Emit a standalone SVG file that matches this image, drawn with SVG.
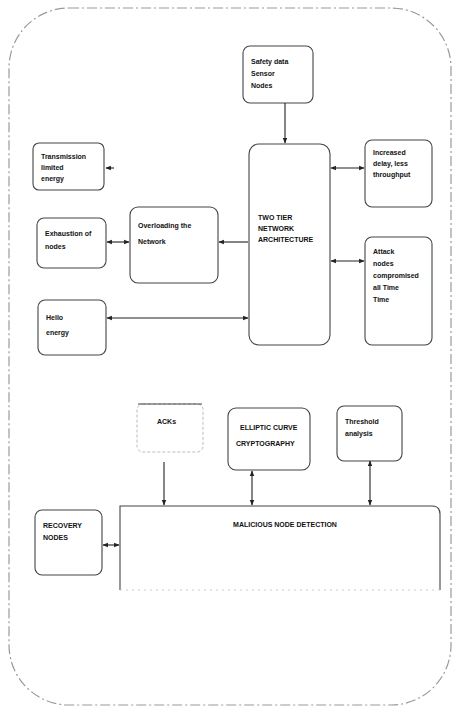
<svg xmlns="http://www.w3.org/2000/svg" width="460" height="713" viewBox="0 0 460 713">
<style>
.frame{fill:none;stroke:#9a9a9a;stroke-width:1.2;stroke-dasharray:10 3 2 3}
.box{fill:#fff;stroke:#444;stroke-width:1.1}
.t{font-family:"Liberation Sans",Arial,sans-serif;font-size:7px;font-weight:bold;fill:#111}
.c{stroke:#222;stroke-width:1.1;fill:none}
</style>
<defs>
<marker id="ah" viewBox="0 0 10 10" refX="9" refY="5" markerWidth="5" markerHeight="5" orient="auto-start-reverse">
<path d="M0,1 L10,5 L0,9 z" fill="#222"/>
</marker>
</defs>
<rect x="9" y="8" width="442" height="697" rx="60" ry="60" class="frame"/>

<g id="sensor"><rect class="box" x="243" y="46" width="70" height="57" rx="7"/>
<text class="t" x="251" y="64">Safety data</text><text class="t" x="251" y="76">Sensor</text><text class="t" x="251" y="88">Nodes</text></g>

<g id="transmission"><rect class="box" x="33" y="143" width="71" height="47" rx="6"/>
<text class="t" x="41" y="159">Transmission</text><text class="t" x="41" y="170">limited</text><text class="t" x="41" y="181">energy</text></g>

<g id="exhaustion"><rect class="box" x="37" y="218" width="69" height="50" rx="7"/>
<text class="t" x="45" y="236">Exhaustion of</text><text class="t" x="45" y="249">nodes</text></g>

<g id="overloading"><rect class="box" x="130" y="207" width="88" height="76" rx="8"/>
<text class="t" x="138" y="228">Overloading the</text><text class="t" x="138" y="244">Network</text></g>

<g id="twotier"><rect class="box" x="249" y="144" width="81" height="201" rx="10"/>
<text class="t" x="258" y="220">TWO TIER</text><text class="t" x="258" y="231">NETWORK</text><text class="t" x="258" y="242">ARCHITECTURE</text></g>

<g id="delay"><rect class="box" x="365" y="140" width="67" height="67" rx="7"/>
<text class="t" x="373" y="155">Increased</text><text class="t" x="373" y="166">delay, less</text><text class="t" x="373" y="177">throughput</text></g>

<g id="attack"><rect class="box" x="365" y="237" width="67" height="108" rx="7"/>
<text class="t" x="373" y="254">Attack</text><text class="t" x="373" y="266">nodes</text><text class="t" x="373" y="278">compromised</text><text class="t" x="373" y="290">all Time</text><text class="t" x="373" y="302">Time</text></g>

<g id="hello"><rect class="box" x="38" y="300" width="68" height="55" rx="7"/>
<text class="t" x="46" y="320">Hello</text><text class="t" x="46" y="335">energy</text></g>

<g id="acks"><rect x="137" y="404" width="66" height="48" rx="6" fill="#fff" stroke="#bbb" stroke-width="1" stroke-dasharray="3 2"/><line x1="138" y1="404" x2="202" y2="404" stroke="#444" stroke-width="1.1"/>
<text class="t" x="157" y="424">ACKs</text></g>

<g id="ecc"><rect class="box" x="228" y="408" width="82" height="62" rx="8"/>
<text class="t" x="240" y="430">ELLIPTIC CURVE</text><text class="t" x="236" y="446">CRYPTOGRAPHY</text></g>

<g id="threshold"><rect class="box" x="337" y="406" width="65" height="55" rx="7"/>
<text class="t" x="345" y="424">Threshold</text><text class="t" x="345" y="436">analysis</text></g>

<g id="recovery"><rect class="box" x="35" y="510" width="67" height="65" rx="7"/>
<text class="t" x="43" y="528">RECOVERY</text><text class="t" x="43" y="540">NODES</text></g>

<g id="malicious"><path class="box" d="M120,590 L120,506 L432,506 Q440,506 440,514 L440,590" fill="none"/>
<path d="M120,590 L440,590" stroke="#ccc" stroke-width="1" stroke-dasharray="2 4"/>
<text class="t" x="285" y="527" text-anchor="middle" font-size="8">MALICIOUS NODE DETECTION</text></g>

<g id="connectors">
<line class="c" x1="285" y1="103" x2="285" y2="143" marker-end="url(#ah)"/>
<line class="c" x1="114" y1="168" x2="106" y2="168" marker-end="url(#ah)"/>
<line class="c" x1="107" y1="242" x2="129" y2="242" marker-start="url(#ah)" marker-end="url(#ah)"/>
<line class="c" x1="248" y1="242" x2="219" y2="242" marker-end="url(#ah)"/>
<line class="c" x1="107" y1="318" x2="248" y2="318" marker-start="url(#ah)" marker-end="url(#ah)"/>
<line class="c" x1="331" y1="168" x2="364" y2="168" marker-start="url(#ah)" marker-end="url(#ah)"/>
<line class="c" x1="331" y1="261" x2="364" y2="261" marker-start="url(#ah)" marker-end="url(#ah)"/>
<line class="c" x1="164" y1="462" x2="164" y2="505" marker-end="url(#ah)"/>
<line class="c" x1="252" y1="471" x2="252" y2="505" marker-start="url(#ah)" marker-end="url(#ah)"/>
<line class="c" x1="370" y1="461" x2="370" y2="505" marker-start="url(#ah)" marker-end="url(#ah)"/>
<line class="c" x1="103" y1="545" x2="119" y2="545" marker-start="url(#ah)" marker-end="url(#ah)"/>
</g>
</svg>
